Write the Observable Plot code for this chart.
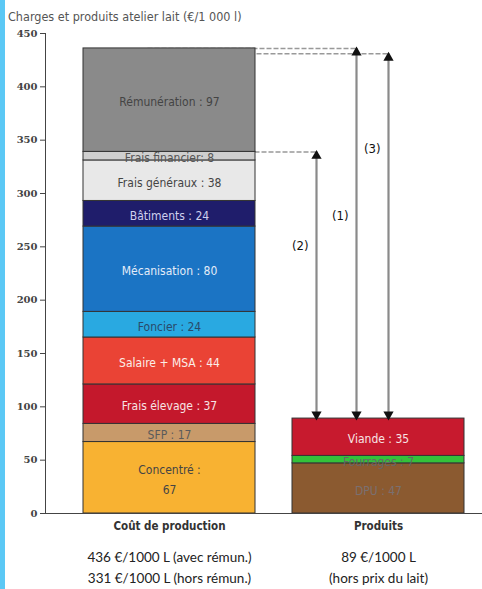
<!DOCTYPE html>
<html><head><meta charset="utf-8">
<script src="https://cdn.jsdelivr.net/npm/d3@7"></script>
<script src="https://cdn.jsdelivr.net/npm/@observablehq/plot@0.6"></script>
<style>
body{margin:0;background:#fff}
#wrap{position:relative;width:482px;height:589px;overflow:hidden;background:#fff}
#strip{position:absolute;left:0;top:0;width:5px;height:589px;background:#5bc8f5;z-index:2}
#title{position:absolute;left:8px;top:9px;font-size:12.5px;font-family:"Liberation Sans Narrow","DejaVu Sans Condensed","Noto Sans",sans-serif;font-stretch:condensed;font-variant-numeric:oldstyle-nums;color:#555;z-index:2;white-space:nowrap}
#chart{position:absolute;left:0;top:0}
</style></head><body>
<div id="wrap"><div id="strip"></div><div id="title"></div><div id="chart"></div></div>
<script>
const title = "Charges et produits atelier lait (€/1 000 l)";
const groups = ["Coût de production", "Produits"];
const costCategories = ["Concentré", "SFP", "Frais élevage", "Salaire + MSA", "Foncier", "Mécanisation", "Bâtiments", "Frais généraux", "Frais financier", "Rémunération"];
const costValues = [67, 17, 37, 44, 24, 80, 24, 38, 8, 97];
const productCategories = ["DPU", "Fourrages", "Viande"];
const productValues = [47, 7, 35];
const yTicks = [0, 50, 100, 150, 200, 250, 300, 350, 400, 450];
const arrowNames = ["(1)", "(2)", "(3)"];
const arrowTops = [436, 339, 431];
const arrowLabelAt = [279, 251, 342];
const summaryText = [
  "436 €/1000 L (avec rémun.)\n331 €/1000 L (hors rémun.)",
  "89 €/1000 L\n(hors prix du lait)"
];

// styles
const segStyle = {
  "Concentré":      {fill: "#f8b232", text: "#444", sep: " :\n"},
  "SFP":            {fill: "#c89a6a", text: "#5a5a5a"},
  "Frais élevage":  {fill: "#c4182c", text: "#f7e4e4"},
  "Salaire + MSA":  {fill: "#ea4335", text: "#fbeee8"},
  "Foncier":        {fill: "#29a9e1", text: "#2a4a6a"},
  "Mécanisation":   {fill: "#1b74c4", text: "#e4ecf8"},
  "Bâtiments":      {fill: "#1f1d6b", text: "#cfd0ee"},
  "Frais généraux": {fill: "#e8e8e8", text: "#444"},
  "Frais financier":{fill: "#cfcfcf", text: "#555", sep: ": "},
  "Rémunération":   {fill: "#8a8a8a", text: "#444"},
  "DPU":            {fill: "#8b5a30", text: "#7a7070"},
  "Fourrages":      {fill: "#33c23a", text: "#666"},
  "Viande":         {fill: "#c71a2e", text: "#f7e4e4"}
};
const arrowDx = {"(1)": -22, "(2)": -62, "(3)": 10};
const condensed = "'Liberation Sans Narrow','DejaVu Sans Condensed','Noto Sans',sans-serif";

document.getElementById("title").textContent = title;

function stack(group, cats, vals) {
  let acc = 0;
  return cats.map((c, i) => {
    const y1 = acc; acc += vals[i];
    return {group, cat: c, value: vals[i], y1, y2: acc, mid: (y1 + acc) / 2};
  });
}
const rows = [...stack(groups[0], costCategories, costValues), ...stack(groups[1], productCategories, productValues)];
const productTotal = d3.sum(productValues);
const arrows = arrowNames.map((n, i) => ({name: n, top: arrowTops[i], bottom: productTotal, labelAt: arrowLabelAt[i]}));
const summary = groups.map((g, i) => ({group: g, text: summaryText[i]}));
const label = d => d.cat + (segStyle[d.cat].sep ?? " : ") + d.value;

const marks = [];
for (const a of arrows) {
  marks.push(Plot.link([a], {x1: () => groups[0], x2: () => groups[1], y1: "top", y2: "top", dx: arrowDx[a.name], stroke: "#999", strokeWidth: 1.5, strokeDasharray: "5,2"}));
}
marks.push(
  Plot.barY(rows, {x: "group", y1: "y1", y2: "y2", fill: d => segStyle[d.cat].fill, stroke: "#333", strokeWidth: 1}),
  Plot.text(rows, {x: "group", y: "mid", text: label, fill: d => segStyle[d.cat].text, fontSize: 12, fontFamily: condensed, lineHeight: 1.6})
);
for (const a of arrows) {
  const dx = arrowDx[a.name];
  marks.push(
    Plot.ruleX([a], {x: () => groups[1], y1: "bottom", y2: "top", dx, stroke: "#8a8a8a", strokeWidth: 2.2}),
    Plot.dot([a], {x: () => groups[1], y: "top", dx, dy: 4, symbol: "triangle", r: 3.8, fill: "#111", stroke: "none"}),
    Plot.dot([a], {x: () => groups[1], y: "bottom", dx, dy: -4, symbol: "triangle", rotate: 180, r: 3.8, fill: "#111", stroke: "none"}),
    Plot.text([a], {x: () => groups[1], y: "labelAt", text: "name", dx: dx - 8, textAnchor: "end", fontSize: 13, fontFamily: condensed, fill: "#111"})
  );
}
marks.push(
  Plot.frame({anchor: "left", stroke: "#444"}),
  Plot.ruleY([0], {stroke: "#444"}),
  Plot.axisY({ticks: yTicks, tickSize: 5, tickPadding: 3, fontSize: 10, fontWeight: "bold", fill: "#444", stroke: "#444", fontFamily: "'DejaVu Serif',serif"}),
  Plot.axisX({tickSize: 0, tickPadding: 8, fontSize: 11.5, fontWeight: "bold", fill: "#333", fontFamily: condensed}),
  Plot.text(summary, {x: "group", y: () => 0, text: "text", dy: 33, lineAnchor: "top", lineHeight: 1.6, fontSize: 13.5, fontFamily: "Lato, sans-serif", fill: "#222"})
);

const chart = Plot.plot({
  width: 482, height: 589,
  marginTop: 33, marginBottom: 76, marginLeft: 45, marginRight: 0,
  x: {domain: groups, range: [82, 465], paddingInner: 0.176, paddingOuter: 0, label: null, axis: null},
  y: {domain: [0, 450], label: null, axis: null},
  color: {type: "identity"},
  style: {background: "transparent", overflow: "visible"},
  marks
});
document.getElementById("chart").appendChild(chart);
</script>
</body></html>
